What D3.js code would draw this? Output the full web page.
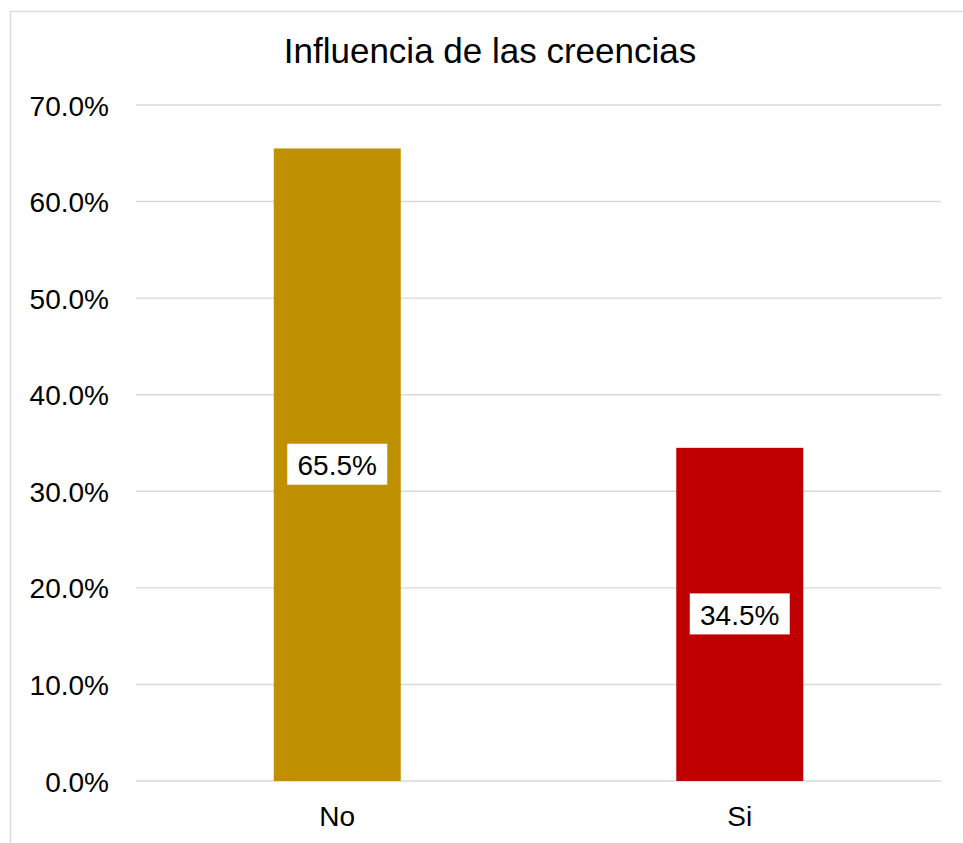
<!DOCTYPE html>
<html>
<head>
<meta charset="utf-8">
<script src="https://cdn.jsdelivr.net/npm/d3@7"></script>
<style>
  html, body { margin: 0; padding: 0; background: #fff; }
  svg { display: block; font-family: "Liberation Sans", Arial, sans-serif; }
</style>
</head>
<body>
<svg id="chart" width="963" height="843"></svg>
<script>
const title = "Influencia de las creencias";
const categories = ["No", "Si"];
const values = [0.655, 0.345];
const barColors = ["#BF9000", "#C00000"];
const tickValues = [0, 0.1, 0.2, 0.3, 0.4, 0.5, 0.6, 0.7];

const svg = d3.select("#chart");
const W = 963, H = 843;
const plot = { left: 136, right: 941, top: 105, bottom: 781 };

// chart border
svg.append("rect")
  .attr("x", 10.5).attr("y", 11.5)
  .attr("width", W + 20).attr("height", H + 20)
  .attr("fill", "#fff").attr("stroke", "#d9d9d9").attr("stroke-width", 1.3);

const x = d3.scaleBand().domain(categories)
  .range([plot.left, plot.right])
  .paddingInner(0.6845).paddingOuter(0.6845 / 2);
const y = d3.scaleLinear().domain([0, 0.7]).range([plot.bottom, plot.top]);

const fmt = d3.format(".1%");

// gridlines
svg.append("g").selectAll("line").data(tickValues).join("line")
  .attr("x1", plot.left).attr("x2", plot.right)
  .attr("y1", d => y(d)).attr("y2", d => y(d))
  .attr("stroke", "#d9d9d9").attr("stroke-width", 1.4);

// y axis labels
const yAxis = d3.axisLeft(y).tickValues(tickValues).tickFormat(fmt).tickSize(0).tickPadding(0);
const gy = svg.append("g").attr("transform", `translate(109,0)`).call(yAxis);
gy.select(".domain").remove();
gy.selectAll("text")
  .attr("font-size", 28).attr("fill", "#000")
  .attr("font-family", "Liberation Sans, Arial, sans-serif")
  .attr("dy", "0.36em").attr("x", 0);

// bars
svg.append("g").selectAll("rect").data(categories).join("rect")
  .attr("x", d => x(d)).attr("width", x.bandwidth())
  .attr("y", (d, i) => y(values[i]))
  .attr("height", (d, i) => y(0) - y(values[i]))
  .attr("fill", (d, i) => barColors[i]);

// x axis labels
const xAxis = d3.axisBottom(x).tickSize(0).tickPadding(0);
const gx = svg.append("g").attr("transform", `translate(0,826)`).call(xAxis);
gx.select(".domain").remove();
gx.selectAll("text")
  .attr("font-size", 28).attr("fill", "#000")
  .attr("font-family", "Liberation Sans, Arial, sans-serif")
  .attr("dy", 0).attr("y", 0);

// data labels
const lbl = svg.append("g").selectAll("g").data(categories).join("g")
  .attr("transform", (d, i) => `translate(${x(d) + x.bandwidth() / 2},${(y(values[i]) + y(0)) / 2})`);
lbl.append("rect")
  .attr("x", -50).attr("y", -21).attr("width", 100).attr("height", 41)
  .attr("fill", "#fff");
lbl.append("text")
  .attr("text-anchor", "middle").attr("dy", "0.36em")
  .attr("font-size", 28).attr("fill", "#000")
  .text((d, i) => fmt(values[i]));

// title
svg.append("text")
  .attr("x", 490).attr("y", 63)
  .attr("text-anchor", "middle")
  .attr("font-size", 35).attr("fill", "#000")
  .text(title);
</script>
</body>
</html>
